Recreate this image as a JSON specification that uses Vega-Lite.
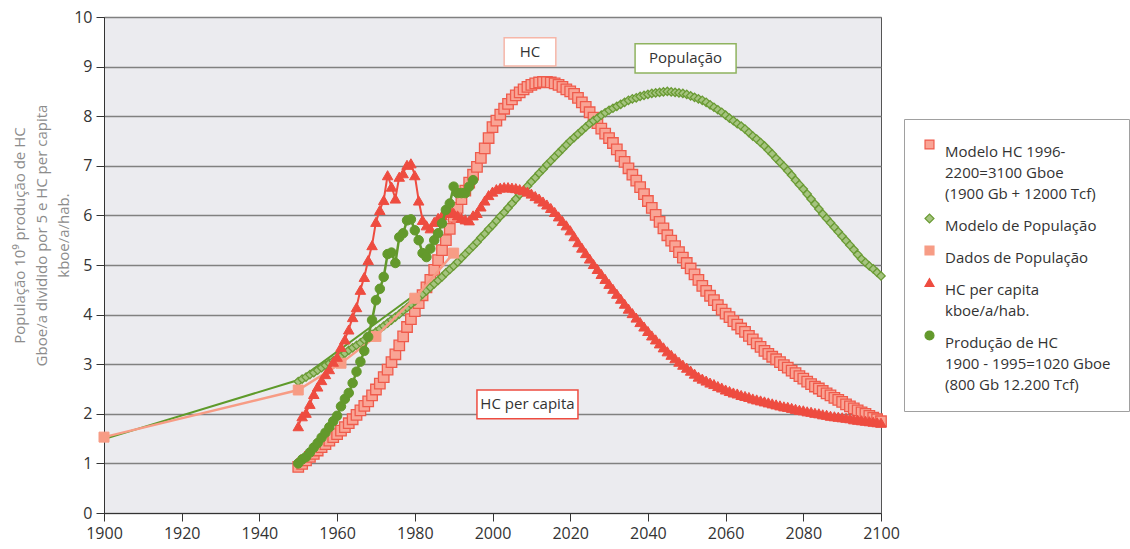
{
  "$schema": "https://vega.github.io/schema/vega-lite/v6.json",
  "width": 777,
  "height": 496,
  "autosize": {"type": "none"},
  "padding": {"left": 104, "top": 17, "right": 249, "bottom": 36},
  "background": "white",
  "config": {
    "font": "Open Sans",
    "view": {"fill": "#EBEBEF", "stroke": "#555555", "strokeWidth": 1},
    "style": {"guide-label": {"lineHeight": 21}}
  },
  "datasets": {
    "popline": [
      {"a": 1900, "v": 1.49}, {"a": 1950, "v": 2.68}, {"a": 1980, "v": 4.4}
    ],
    "popd": [
      {"a": 1900, "v": 1.53, "s": "popd"}, {"a": 1950, "v": 2.48, "s": "popd"}, {"a": 1961, "v": 3.02, "s": "popd"},
      {"a": 1970, "v": 3.56, "s": "popd"}, {"a": 1980, "v": 4.33, "s": "popd"}, {"a": 1990, "v": 5.24, "s": "popd"}
    ],
    "prod": [
      {"a":1950,"v":1.0,"s":"prod"},{"a":1951,"v":1.08,"s":"prod"},{"a":1952,"v":1.13,"s":"prod"},{"a":1953,"v":1.22,"s":"prod"},
      {"a":1954,"v":1.32,"s":"prod"},{"a":1955,"v":1.41,"s":"prod"},{"a":1956,"v":1.52,"s":"prod"},{"a":1957,"v":1.62,"s":"prod"},
      {"a":1958,"v":1.73,"s":"prod"},{"a":1959,"v":1.85,"s":"prod"},{"a":1960,"v":1.96,"s":"prod"},{"a":1961,"v":2.15,"s":"prod"},
      {"a":1962,"v":2.3,"s":"prod"},{"a":1963,"v":2.42,"s":"prod"},{"a":1964,"v":2.62,"s":"prod"},{"a":1965,"v":2.85,"s":"prod"},
      {"a":1966,"v":3.05,"s":"prod"},{"a":1967,"v":3.27,"s":"prod"},{"a":1968,"v":3.55,"s":"prod"},{"a":1969,"v":3.89,"s":"prod"},
      {"a":1970,"v":4.29,"s":"prod"},{"a":1971,"v":4.52,"s":"prod"},{"a":1972,"v":4.76,"s":"prod"},{"a":1973,"v":5.22,"s":"prod"},
      {"a":1974,"v":5.25,"s":"prod"},{"a":1975,"v":5.04,"s":"prod"},{"a":1976,"v":5.56,"s":"prod"},{"a":1977,"v":5.64,"s":"prod"},
      {"a":1978,"v":5.9,"s":"prod"},{"a":1979,"v":5.92,"s":"prod"},{"a":1980,"v":5.7,"s":"prod"},{"a":1981,"v":5.5,"s":"prod"},
      {"a":1982,"v":5.24,"s":"prod"},{"a":1983,"v":5.16,"s":"prod"},{"a":1984,"v":5.33,"s":"prod"},{"a":1985,"v":5.5,"s":"prod"},
      {"a":1986,"v":5.64,"s":"prod"},{"a":1987,"v":5.84,"s":"prod"},{"a":1988,"v":6.11,"s":"prod"},{"a":1989,"v":6.24,"s":"prod"},
      {"a":1990,"v":6.58,"s":"prod"},{"a":1991,"v":6.45,"s":"prod"},{"a":1992,"v":6.45,"s":"prod"},{"a":1993,"v":6.45,"s":"prod"},
      {"a":1994,"v":6.58,"s":"prod"},{"a":1995,"v":6.71,"s":"prod"}
    ],
    "hcpc": [
      {"a":1950,"v":1.75,"s":"hcpc"},{"a":1951,"v":1.95,"s":"hcpc"},{"a":1952,"v":2.02,"s":"hcpc"},{"a":1953,"v":2.2,"s":"hcpc"},
      {"a":1954,"v":2.4,"s":"hcpc"},{"a":1955,"v":2.55,"s":"hcpc"},{"a":1956,"v":2.68,"s":"hcpc"},{"a":1957,"v":2.8,"s":"hcpc"},
      {"a":1958,"v":2.9,"s":"hcpc"},{"a":1959,"v":3.05,"s":"hcpc"},{"a":1960,"v":3.15,"s":"hcpc"},{"a":1961,"v":3.35,"s":"hcpc"},
      {"a":1962,"v":3.5,"s":"hcpc"},{"a":1963,"v":3.7,"s":"hcpc"},{"a":1964,"v":3.95,"s":"hcpc"},{"a":1965,"v":4.15,"s":"hcpc"},
      {"a":1966,"v":4.5,"s":"hcpc"},{"a":1967,"v":4.76,"s":"hcpc"},{"a":1968,"v":5.1,"s":"hcpc"},{"a":1969,"v":5.4,"s":"hcpc"},
      {"a":1970,"v":5.87,"s":"hcpc"},{"a":1971,"v":6.11,"s":"hcpc"},{"a":1972,"v":6.31,"s":"hcpc"},{"a":1973,"v":6.81,"s":"hcpc"},
      {"a":1974,"v":6.58,"s":"hcpc"},{"a":1975,"v":6.34,"s":"hcpc"},{"a":1976,"v":6.78,"s":"hcpc"},{"a":1977,"v":6.85,"s":"hcpc"},
      {"a":1978,"v":7.02,"s":"hcpc"},{"a":1979,"v":7.05,"s":"hcpc"},{"a":1980,"v":6.81,"s":"hcpc"},{"a":1981,"v":6.3,"s":"hcpc"},
      {"a":1982,"v":5.91,"s":"hcpc"},{"a":1983,"v":5.8,"s":"hcpc"},{"a":1984,"v":5.74,"s":"hcpc"},{"a":1985,"v":5.87,"s":"hcpc"},
      {"a":1986,"v":5.95,"s":"hcpc"},{"a":1987,"v":6.0,"s":"hcpc"},{"a":1988,"v":6.05,"s":"hcpc"},{"a":1989,"v":6.1,"s":"hcpc"},
      {"a":1990,"v":6.05,"s":"hcpc"},{"a":1991,"v":6.0,"s":"hcpc"},{"a":1992,"v":5.95,"s":"hcpc"},{"a":1993,"v":5.92,"s":"hcpc"},
      {"a":1994,"v":5.9,"s":"hcpc"},{"a":1995,"v":6.0,"s":"hcpc"},
      {"a":1996,"v":6.05,"s":"hcpc"},{"a":1997,"v":6.18,"s":"hcpc"},{"a":1998,"v":6.3,"s":"hcpc"},{"a":1999,"v":6.41,"s":"hcpc"},
      {"a":2000,"v":6.48,"s":"hcpc"},{"a":2001,"v":6.53,"s":"hcpc"},{"a":2002,"v":6.56,"s":"hcpc"},{"a":2003,"v":6.57,"s":"hcpc"},
      {"a":2004,"v":6.57,"s":"hcpc"},{"a":2005,"v":6.56,"s":"hcpc"},{"a":2006,"v":6.55,"s":"hcpc"},{"a":2007,"v":6.53,"s":"hcpc"},
      {"a":2008,"v":6.51,"s":"hcpc"},{"a":2009,"v":6.48,"s":"hcpc"},{"a":2010,"v":6.44,"s":"hcpc"},{"a":2011,"v":6.39,"s":"hcpc"},
      {"a":2012,"v":6.34,"s":"hcpc"},{"a":2013,"v":6.28,"s":"hcpc"},{"a":2014,"v":6.22,"s":"hcpc"},{"a":2015,"v":6.15,"s":"hcpc"},
      {"a":2016,"v":6.07,"s":"hcpc"},{"a":2017,"v":5.98,"s":"hcpc"},{"a":2018,"v":5.89,"s":"hcpc"},{"a":2019,"v":5.8,"s":"hcpc"},
      {"a":2020,"v":5.7,"s":"hcpc"},{"a":2021,"v":5.58,"s":"hcpc"},{"a":2022,"v":5.46,"s":"hcpc"},{"a":2023,"v":5.35,"s":"hcpc"},
      {"a":2024,"v":5.24,"s":"hcpc"},{"a":2025,"v":5.13,"s":"hcpc"},{"a":2026,"v":5.02,"s":"hcpc"},{"a":2027,"v":4.92,"s":"hcpc"},
      {"a":2028,"v":4.82,"s":"hcpc"},{"a":2029,"v":4.72,"s":"hcpc"},{"a":2030,"v":4.62,"s":"hcpc"},{"a":2031,"v":4.52,"s":"hcpc"},
      {"a":2032,"v":4.42,"s":"hcpc"},{"a":2033,"v":4.32,"s":"hcpc"},{"a":2034,"v":4.22,"s":"hcpc"},{"a":2035,"v":4.12,"s":"hcpc"},
      {"a":2036,"v":4.03,"s":"hcpc"},{"a":2037,"v":3.94,"s":"hcpc"},{"a":2038,"v":3.85,"s":"hcpc"},{"a":2039,"v":3.76,"s":"hcpc"},
      {"a":2040,"v":3.67,"s":"hcpc"},{"a":2041,"v":3.58,"s":"hcpc"},{"a":2042,"v":3.5,"s":"hcpc"},{"a":2043,"v":3.42,"s":"hcpc"},
      {"a":2044,"v":3.34,"s":"hcpc"},{"a":2045,"v":3.26,"s":"hcpc"},{"a":2046,"v":3.19,"s":"hcpc"},{"a":2047,"v":3.12,"s":"hcpc"},
      {"a":2048,"v":3.05,"s":"hcpc"},{"a":2049,"v":2.99,"s":"hcpc"},{"a":2050,"v":2.93,"s":"hcpc"},{"a":2051,"v":2.87,"s":"hcpc"},
      {"a":2052,"v":2.81,"s":"hcpc"},{"a":2053,"v":2.75,"s":"hcpc"},{"a":2054,"v":2.71,"s":"hcpc"},{"a":2055,"v":2.67,"s":"hcpc"},
      {"a":2056,"v":2.63,"s":"hcpc"},{"a":2057,"v":2.6,"s":"hcpc"},{"a":2058,"v":2.56,"s":"hcpc"},{"a":2059,"v":2.53,"s":"hcpc"},
      {"a":2060,"v":2.49,"s":"hcpc"},{"a":2061,"v":2.46,"s":"hcpc"},{"a":2062,"v":2.43,"s":"hcpc"},{"a":2063,"v":2.41,"s":"hcpc"},
      {"a":2064,"v":2.38,"s":"hcpc"},{"a":2065,"v":2.36,"s":"hcpc"},{"a":2066,"v":2.34,"s":"hcpc"},{"a":2067,"v":2.31,"s":"hcpc"},
      {"a":2068,"v":2.29,"s":"hcpc"},{"a":2069,"v":2.27,"s":"hcpc"},{"a":2070,"v":2.25,"s":"hcpc"},{"a":2071,"v":2.23,"s":"hcpc"},
      {"a":2072,"v":2.21,"s":"hcpc"},{"a":2073,"v":2.19,"s":"hcpc"},{"a":2074,"v":2.17,"s":"hcpc"},{"a":2075,"v":2.15,"s":"hcpc"},
      {"a":2076,"v":2.14,"s":"hcpc"},{"a":2077,"v":2.12,"s":"hcpc"},{"a":2078,"v":2.1,"s":"hcpc"},{"a":2079,"v":2.08,"s":"hcpc"},
      {"a":2080,"v":2.07,"s":"hcpc"},{"a":2081,"v":2.05,"s":"hcpc"},{"a":2082,"v":2.04,"s":"hcpc"},{"a":2083,"v":2.02,"s":"hcpc"},
      {"a":2084,"v":2.01,"s":"hcpc"},{"a":2085,"v":1.99,"s":"hcpc"},{"a":2086,"v":1.98,"s":"hcpc"},{"a":2087,"v":1.96,"s":"hcpc"},
      {"a":2088,"v":1.95,"s":"hcpc"},{"a":2089,"v":1.94,"s":"hcpc"},{"a":2090,"v":1.93,"s":"hcpc"},{"a":2091,"v":1.92,"s":"hcpc"},
      {"a":2092,"v":1.91,"s":"hcpc"},{"a":2093,"v":1.89,"s":"hcpc"},{"a":2094,"v":1.88,"s":"hcpc"},{"a":2095,"v":1.87,"s":"hcpc"},
      {"a":2096,"v":1.86,"s":"hcpc"},{"a":2097,"v":1.85,"s":"hcpc"},{"a":2098,"v":1.84,"s":"hcpc"},{"a":2099,"v":1.83,"s":"hcpc"},
      {"a":2100,"v":1.82,"s":"hcpc"}
    ],
    "hcm": [
      {"a":1950,"v":0.93,"s":"hcm"},{"a":1951,"v":0.99,"s":"hcm"},{"a":1952,"v":1.06,"s":"hcm"},{"a":1953,"v":1.13,"s":"hcm"},
      {"a":1954,"v":1.19,"s":"hcm"},{"a":1955,"v":1.26,"s":"hcm"},{"a":1956,"v":1.33,"s":"hcm"},{"a":1957,"v":1.39,"s":"hcm"},
      {"a":1958,"v":1.46,"s":"hcm"},{"a":1959,"v":1.53,"s":"hcm"},{"a":1960,"v":1.59,"s":"hcm"},{"a":1961,"v":1.66,"s":"hcm"},
      {"a":1962,"v":1.73,"s":"hcm"},{"a":1963,"v":1.81,"s":"hcm"},{"a":1964,"v":1.89,"s":"hcm"},{"a":1965,"v":1.98,"s":"hcm"},
      {"a":1966,"v":2.07,"s":"hcm"},{"a":1967,"v":2.16,"s":"hcm"},{"a":1968,"v":2.25,"s":"hcm"},{"a":1969,"v":2.37,"s":"hcm"},
      {"a":1970,"v":2.49,"s":"hcm"},{"a":1971,"v":2.61,"s":"hcm"},{"a":1972,"v":2.74,"s":"hcm"},{"a":1973,"v":2.89,"s":"hcm"},
      {"a":1974,"v":3.04,"s":"hcm"},{"a":1975,"v":3.2,"s":"hcm"},{"a":1976,"v":3.38,"s":"hcm"},{"a":1977,"v":3.56,"s":"hcm"},
      {"a":1978,"v":3.75,"s":"hcm"},{"a":1979,"v":3.91,"s":"hcm"},{"a":1980,"v":4.07,"s":"hcm"},{"a":1981,"v":4.23,"s":"hcm"},
      {"a":1982,"v":4.39,"s":"hcm"},{"a":1983,"v":4.55,"s":"hcm"},{"a":1984,"v":4.7,"s":"hcm"},{"a":1985,"v":4.9,"s":"hcm"},
      {"a":1986,"v":5.1,"s":"hcm"},{"a":1987,"v":5.3,"s":"hcm"},{"a":1988,"v":5.5,"s":"hcm"},{"a":1989,"v":5.73,"s":"hcm"},
      {"a":1990,"v":5.97,"s":"hcm"},{"a":1991,"v":6.15,"s":"hcm"},{"a":1992,"v":6.33,"s":"hcm"},{"a":1993,"v":6.5,"s":"hcm"},
      {"a":1994,"v":6.66,"s":"hcm"},{"a":1995,"v":6.82,"s":"hcm"},{"a":1996,"v":6.98,"s":"hcm"},{"a":1997,"v":7.16,"s":"hcm"},
      {"a":1998,"v":7.35,"s":"hcm"},{"a":1999,"v":7.56,"s":"hcm"},{"a":2000,"v":7.78,"s":"hcm"},{"a":2001,"v":7.91,"s":"hcm"},
      {"a":2002,"v":8.03,"s":"hcm"},{"a":2003,"v":8.15,"s":"hcm"},{"a":2004,"v":8.25,"s":"hcm"},{"a":2005,"v":8.34,"s":"hcm"},
      {"a":2006,"v":8.42,"s":"hcm"},{"a":2007,"v":8.48,"s":"hcm"},{"a":2008,"v":8.54,"s":"hcm"},{"a":2009,"v":8.59,"s":"hcm"},
      {"a":2010,"v":8.63,"s":"hcm"},{"a":2011,"v":8.66,"s":"hcm"},{"a":2012,"v":8.68,"s":"hcm"},{"a":2013,"v":8.69,"s":"hcm"},
      {"a":2014,"v":8.69,"s":"hcm"},{"a":2015,"v":8.68,"s":"hcm"},{"a":2016,"v":8.66,"s":"hcm"},{"a":2017,"v":8.63,"s":"hcm"},
      {"a":2018,"v":8.59,"s":"hcm"},{"a":2019,"v":8.54,"s":"hcm"},{"a":2020,"v":8.5,"s":"hcm"},{"a":2021,"v":8.45,"s":"hcm"},
      {"a":2022,"v":8.37,"s":"hcm"},{"a":2023,"v":8.28,"s":"hcm"},{"a":2024,"v":8.19,"s":"hcm"},{"a":2025,"v":8.08,"s":"hcm"},
      {"a":2026,"v":7.97,"s":"hcm"},{"a":2027,"v":7.86,"s":"hcm"},{"a":2028,"v":7.75,"s":"hcm"},{"a":2029,"v":7.65,"s":"hcm"},
      {"a":2030,"v":7.56,"s":"hcm"},{"a":2031,"v":7.46,"s":"hcm"},{"a":2032,"v":7.33,"s":"hcm"},{"a":2033,"v":7.2,"s":"hcm"},
      {"a":2034,"v":7.08,"s":"hcm"},{"a":2035,"v":6.95,"s":"hcm"},{"a":2036,"v":6.82,"s":"hcm"},{"a":2037,"v":6.7,"s":"hcm"},
      {"a":2038,"v":6.57,"s":"hcm"},{"a":2039,"v":6.43,"s":"hcm"},{"a":2040,"v":6.29,"s":"hcm"},{"a":2041,"v":6.15,"s":"hcm"},
      {"a":2042,"v":6.01,"s":"hcm"},{"a":2043,"v":5.87,"s":"hcm"},{"a":2044,"v":5.74,"s":"hcm"},{"a":2045,"v":5.6,"s":"hcm"},
      {"a":2046,"v":5.49,"s":"hcm"},{"a":2047,"v":5.38,"s":"hcm"},{"a":2048,"v":5.26,"s":"hcm"},{"a":2049,"v":5.15,"s":"hcm"},
      {"a":2050,"v":5.04,"s":"hcm"},{"a":2051,"v":4.93,"s":"hcm"},{"a":2052,"v":4.81,"s":"hcm"},{"a":2053,"v":4.7,"s":"hcm"},
      {"a":2054,"v":4.58,"s":"hcm"},{"a":2055,"v":4.48,"s":"hcm"},{"a":2056,"v":4.38,"s":"hcm"},{"a":2057,"v":4.29,"s":"hcm"},
      {"a":2058,"v":4.19,"s":"hcm"},{"a":2059,"v":4.1,"s":"hcm"},{"a":2060,"v":4.02,"s":"hcm"},{"a":2061,"v":3.95,"s":"hcm"},
      {"a":2062,"v":3.87,"s":"hcm"},{"a":2063,"v":3.8,"s":"hcm"},{"a":2064,"v":3.72,"s":"hcm"},{"a":2065,"v":3.65,"s":"hcm"},
      {"a":2066,"v":3.57,"s":"hcm"},{"a":2067,"v":3.5,"s":"hcm"},{"a":2068,"v":3.42,"s":"hcm"},{"a":2069,"v":3.35,"s":"hcm"},
      {"a":2070,"v":3.27,"s":"hcm"},{"a":2071,"v":3.21,"s":"hcm"},{"a":2072,"v":3.15,"s":"hcm"},{"a":2073,"v":3.1,"s":"hcm"},
      {"a":2074,"v":3.04,"s":"hcm"},{"a":2075,"v":2.98,"s":"hcm"},{"a":2076,"v":2.93,"s":"hcm"},{"a":2077,"v":2.87,"s":"hcm"},
      {"a":2078,"v":2.82,"s":"hcm"},{"a":2079,"v":2.76,"s":"hcm"},{"a":2080,"v":2.71,"s":"hcm"},{"a":2081,"v":2.65,"s":"hcm"},
      {"a":2082,"v":2.6,"s":"hcm"},{"a":2083,"v":2.55,"s":"hcm"},{"a":2084,"v":2.51,"s":"hcm"},{"a":2085,"v":2.46,"s":"hcm"},
      {"a":2086,"v":2.41,"s":"hcm"},{"a":2087,"v":2.37,"s":"hcm"},{"a":2088,"v":2.32,"s":"hcm"},{"a":2089,"v":2.28,"s":"hcm"},
      {"a":2090,"v":2.24,"s":"hcm"},{"a":2091,"v":2.19,"s":"hcm"},{"a":2092,"v":2.15,"s":"hcm"},{"a":2093,"v":2.11,"s":"hcm"},
      {"a":2094,"v":2.07,"s":"hcm"},{"a":2095,"v":2.03,"s":"hcm"},{"a":2096,"v":2.0,"s":"hcm"},{"a":2097,"v":1.96,"s":"hcm"},
      {"a":2098,"v":1.92,"s":"hcm"},{"a":2099,"v":1.89,"s":"hcm"},{"a":2100,"v":1.85,"s":"hcm"}
    ],
    "popm": [
      {"a":1950,"v":2.65,"s":"popm"},{"a":1951,"v":2.7,"s":"popm"},{"a":1952,"v":2.74,"s":"popm"},{"a":1953,"v":2.79,"s":"popm"},
      {"a":1954,"v":2.83,"s":"popm"},{"a":1955,"v":2.88,"s":"popm"},{"a":1956,"v":2.93,"s":"popm"},{"a":1957,"v":2.98,"s":"popm"},
      {"a":1958,"v":3.02,"s":"popm"},{"a":1959,"v":3.07,"s":"popm"},{"a":1960,"v":3.12,"s":"popm"},{"a":1961,"v":3.17,"s":"popm"},
      {"a":1962,"v":3.22,"s":"popm"},{"a":1963,"v":3.28,"s":"popm"},{"a":1964,"v":3.33,"s":"popm"},{"a":1965,"v":3.38,"s":"popm"},
      {"a":1966,"v":3.43,"s":"popm"},{"a":1967,"v":3.49,"s":"popm"},{"a":1968,"v":3.54,"s":"popm"},{"a":1969,"v":3.6,"s":"popm"},
      {"a":1970,"v":3.65,"s":"popm"},{"a":1971,"v":3.71,"s":"popm"},{"a":1972,"v":3.77,"s":"popm"},{"a":1973,"v":3.83,"s":"popm"},
      {"a":1974,"v":3.89,"s":"popm"},{"a":1975,"v":3.95,"s":"popm"},{"a":1976,"v":4.01,"s":"popm"},{"a":1977,"v":4.08,"s":"popm"},
      {"a":1978,"v":4.14,"s":"popm"},{"a":1979,"v":4.21,"s":"popm"},{"a":1980,"v":4.27,"s":"popm"},{"a":1981,"v":4.34,"s":"popm"},
      {"a":1982,"v":4.41,"s":"popm"},{"a":1983,"v":4.48,"s":"popm"},{"a":1984,"v":4.55,"s":"popm"},{"a":1985,"v":4.62,"s":"popm"},
      {"a":1986,"v":4.69,"s":"popm"},{"a":1987,"v":4.76,"s":"popm"},{"a":1988,"v":4.84,"s":"popm"},{"a":1989,"v":4.91,"s":"popm"},
      {"a":1990,"v":4.98,"s":"popm"},{"a":1991,"v":5.06,"s":"popm"},{"a":1992,"v":5.14,"s":"popm"},{"a":1993,"v":5.22,"s":"popm"},
      {"a":1994,"v":5.3,"s":"popm"},{"a":1995,"v":5.38,"s":"popm"},{"a":1996,"v":5.46,"s":"popm"},{"a":1997,"v":5.55,"s":"popm"},
      {"a":1998,"v":5.63,"s":"popm"},{"a":1999,"v":5.72,"s":"popm"},{"a":2000,"v":5.8,"s":"popm"},{"a":2001,"v":5.89,"s":"popm"},
      {"a":2002,"v":5.98,"s":"popm"},{"a":2003,"v":6.06,"s":"popm"},{"a":2004,"v":6.15,"s":"popm"},{"a":2005,"v":6.24,"s":"popm"},
      {"a":2006,"v":6.33,"s":"popm"},{"a":2007,"v":6.42,"s":"popm"},{"a":2008,"v":6.5,"s":"popm"},{"a":2009,"v":6.59,"s":"popm"},
      {"a":2010,"v":6.68,"s":"popm"},{"a":2011,"v":6.76,"s":"popm"},{"a":2012,"v":6.85,"s":"popm"},{"a":2013,"v":6.93,"s":"popm"},
      {"a":2014,"v":7.02,"s":"popm"},{"a":2015,"v":7.1,"s":"popm"},{"a":2016,"v":7.18,"s":"popm"},{"a":2017,"v":7.26,"s":"popm"},
      {"a":2018,"v":7.34,"s":"popm"},{"a":2019,"v":7.42,"s":"popm"},{"a":2020,"v":7.5,"s":"popm"},{"a":2021,"v":7.57,"s":"popm"},
      {"a":2022,"v":7.64,"s":"popm"},{"a":2023,"v":7.71,"s":"popm"},{"a":2024,"v":7.78,"s":"popm"},{"a":2025,"v":7.85,"s":"popm"},
      {"a":2026,"v":7.91,"s":"popm"},{"a":2027,"v":7.96,"s":"popm"},{"a":2028,"v":8.02,"s":"popm"},{"a":2029,"v":8.07,"s":"popm"},
      {"a":2030,"v":8.12,"s":"popm"},{"a":2031,"v":8.16,"s":"popm"},{"a":2032,"v":8.2,"s":"popm"},{"a":2033,"v":8.24,"s":"popm"},
      {"a":2034,"v":8.28,"s":"popm"},{"a":2035,"v":8.32,"s":"popm"},{"a":2036,"v":8.35,"s":"popm"},{"a":2037,"v":8.37,"s":"popm"},
      {"a":2038,"v":8.4,"s":"popm"},{"a":2039,"v":8.42,"s":"popm"},{"a":2040,"v":8.44,"s":"popm"},{"a":2041,"v":8.46,"s":"popm"},
      {"a":2042,"v":8.47,"s":"popm"},{"a":2043,"v":8.48,"s":"popm"},{"a":2044,"v":8.49,"s":"popm"},{"a":2045,"v":8.5,"s":"popm"},
      {"a":2046,"v":8.49,"s":"popm"},{"a":2047,"v":8.48,"s":"popm"},{"a":2048,"v":8.47,"s":"popm"},{"a":2049,"v":8.46,"s":"popm"},
      {"a":2050,"v":8.44,"s":"popm"},{"a":2051,"v":8.41,"s":"popm"},{"a":2052,"v":8.38,"s":"popm"},{"a":2053,"v":8.35,"s":"popm"},
      {"a":2054,"v":8.32,"s":"popm"},{"a":2055,"v":8.28,"s":"popm"},{"a":2056,"v":8.23,"s":"popm"},{"a":2057,"v":8.18,"s":"popm"},
      {"a":2058,"v":8.13,"s":"popm"},{"a":2059,"v":8.08,"s":"popm"},{"a":2060,"v":8.02,"s":"popm"},{"a":2061,"v":7.96,"s":"popm"},
      {"a":2062,"v":7.91,"s":"popm"},{"a":2063,"v":7.85,"s":"popm"},{"a":2064,"v":7.8,"s":"popm"},{"a":2065,"v":7.74,"s":"popm"},
      {"a":2066,"v":7.67,"s":"popm"},{"a":2067,"v":7.6,"s":"popm"},{"a":2068,"v":7.54,"s":"popm"},{"a":2069,"v":7.47,"s":"popm"},
      {"a":2070,"v":7.4,"s":"popm"},{"a":2071,"v":7.32,"s":"popm"},{"a":2072,"v":7.24,"s":"popm"},{"a":2073,"v":7.15,"s":"popm"},
      {"a":2074,"v":7.07,"s":"popm"},{"a":2075,"v":6.99,"s":"popm"},{"a":2076,"v":6.9,"s":"popm"},{"a":2077,"v":6.81,"s":"popm"},
      {"a":2078,"v":6.71,"s":"popm"},{"a":2079,"v":6.62,"s":"popm"},{"a":2080,"v":6.53,"s":"popm"},{"a":2081,"v":6.43,"s":"popm"},
      {"a":2082,"v":6.33,"s":"popm"},{"a":2083,"v":6.23,"s":"popm"},{"a":2084,"v":6.13,"s":"popm"},{"a":2085,"v":6.03,"s":"popm"},
      {"a":2086,"v":5.94,"s":"popm"},{"a":2087,"v":5.85,"s":"popm"},{"a":2088,"v":5.76,"s":"popm"},{"a":2089,"v":5.67,"s":"popm"},
      {"a":2090,"v":5.58,"s":"popm"},{"a":2091,"v":5.49,"s":"popm"},{"a":2092,"v":5.4,"s":"popm"},{"a":2093,"v":5.31,"s":"popm"},
      {"a":2094,"v":5.21,"s":"popm"},{"a":2095,"v":5.12,"s":"popm"},{"a":2096,"v":5.05,"s":"popm"},{"a":2097,"v":4.98,"s":"popm"},
      {"a":2098,"v":4.92,"s":"popm"},{"a":2099,"v":4.85,"s":"popm"},{"a":2100,"v":4.78,"s":"popm"}
    ],
    "boxes": [
      {"t": "HC", "a": 2003.0, "a2": 2016.3, "v": 9.01, "v2": 9.58, "ta": 2009.65, "tv": 9.295, "c": "hc"},
      {"t": "População", "a": 2036.7, "a2": 2062.7, "v": 8.87, "v2": 9.46, "ta": 2049.7, "tv": 9.165, "c": "pop"},
      {"t": "HC per capita", "a": 1996.0, "a2": 2022.0, "v": 1.9, "v2": 2.48, "ta": 2009.0, "tv": 2.19, "c": "pc"}
    ]
  },
  "encoding": {
    "x": {
      "field": "a", "type": "quantitative",
      "scale": {"domain": [1900, 2100], "nice": false, "zero": false},
      "axis": {
        "values": [1900, 1920, 1940, 1960, 1980, 2000, 2020, 2040, 2060, 2080, 2100],
        "format": "d", "grid": false, "title": null,
        "labelFontSize": 16, "labelColor": "#333333", "labelFont": "Open Sans",
        "tickColor": "#333333", "domainColor": "#333333", "tickSize": 8, "labelPadding": 4,
        "labelFlush": false, "labelOverlap": false
      }
    },
    "y": {
      "field": "v", "type": "quantitative",
      "scale": {"domain": [0, 10], "nice": false},
      "axis": {
        "values": [0, 1, 2, 3, 4, 5, 6, 7, 8, 9, 10],
        "grid": true, "gridColor": "#808080", "gridWidth": 1.3,
        "labelFontSize": 16, "labelColor": "#333333", "labelFont": "Open Sans",
        "tickColor": "#333333", "domainColor": "#333333", "tickSize": 8, "labelPadding": 4,
        "labelFlush": false, "labelOverlap": false,
        "title": ["População 10⁹ produção de HC", "Gboe/a dividido por 5 e HC per capita", "kboe/a/hab."],
        "titleFont": "Open Sans", "titleFontSize": 15, "titleFontWeight": "normal", "titleColor": "#8C8C8C",
        "titleAngle": -90, "titleAlign": "center", "titleBaseline": "top", "titleX": -92, "titleY": 218, "titleLineHeight": 22
      }
    }
  },
  "layer": [
    {"data": {"name": "popline"}, "mark": {"type": "line", "color": "#5E9A2A", "strokeWidth": 2}, "encoding": {}},
    {"data": {"name": "hcm"}, "mark": {"type": "line", "color": "#EF5B4C", "strokeWidth": 1.5}, "encoding": {}},
    {
      "data": {"name": "hcm"},
      "mark": {"type": "point", "filled": true, "opacity": 1, "size": 110, "strokeWidth": 1.3},
      "encoding": {
        "fill": {"field": "s", "type": "nominal",
          "scale": {"domain": ["hcm", "popm", "popd", "hcpc", "prod"], "range": ["#F9A495", "#A5C47F", "#F79C85", "#EE4C40", "#63992C"]},
          "legend": {
            "orient": "none", "legendX": 800, "legendY": 102, "title": null,
            "fillColor": "white", "strokeColor": "#A0A0A0", "padding": 18,
            "labelFont": "Open Sans", "labelFontSize": 15, "labelColor": "#333333", "labelLimit": 0,
            "rowPadding": 9, "symbolSize": 80, "symbolStrokeWidth": 1.2, "labelOffset": 8,
            "labelBaseline": "top",
            "labelExpr": "datum.value == 'hcm' ? ['Modelo HC 1996-', '2200=3100 Gboe', '(1900 Gb + 12000 Tcf)'] : datum.value == 'popm' ? 'Modelo de População' : datum.value == 'popd' ? 'Dados de População' : datum.value == 'hcpc' ? ['HC per capita', 'kboe/a/hab.'] : ['Produção de HC', '1900 - 1995=1020 Gboe', '(800 Gb 12.200 Tcf)']"
          }
        },
        "stroke": {"field": "s", "type": "nominal",
          "scale": {"domain": ["hcm", "popm", "popd", "hcpc", "prod"], "range": ["#EF5B4C", "#6A9B34", "#F79C85", "#EE4C40", "#63992C"]}
        },
        "shape": {"field": "s", "type": "nominal",
          "scale": {"domain": ["hcm", "popm", "popd", "hcpc", "prod"], "range": ["square", "diamond", "square", "triangle-up", "circle"]}
        }
      }
    },
    {"data": {"name": "popm"}, "mark": {"type": "line", "color": "#6A9B34", "strokeWidth": 1}, "encoding": {}},
    {
      "data": {"name": "popm"},
      "mark": {"type": "point", "filled": true, "opacity": 1, "size": 70, "strokeWidth": 1.3},
      "encoding": {
        "fill": {"field": "s", "type": "nominal"},
        "stroke": {"field": "s", "type": "nominal"},
        "shape": {"field": "s", "type": "nominal"}
      }
    },
    {"data": {"name": "popd"}, "mark": {"type": "line", "color": "#F79C85", "strokeWidth": 2.5}, "encoding": {}},
    {
      "data": {"name": "popd"},
      "mark": {"type": "point", "filled": true, "opacity": 1, "size": 100, "strokeWidth": 1},
      "encoding": {
        "fill": {"field": "s", "type": "nominal"},
        "stroke": {"field": "s", "type": "nominal"},
        "shape": {"field": "s", "type": "nominal"}
      }
    },
    {"data": {"name": "hcpc"}, "mark": {"type": "line", "color": "#EE4C40", "strokeWidth": 2}, "encoding": {}},
    {
      "data": {"name": "hcpc"},
      "mark": {"type": "point", "filled": true, "opacity": 1, "size": 110, "strokeWidth": 1},
      "encoding": {
        "fill": {"field": "s", "type": "nominal"},
        "stroke": {"field": "s", "type": "nominal"},
        "shape": {"field": "s", "type": "nominal"}
      }
    },
    {"data": {"name": "prod"}, "mark": {"type": "line", "color": "#63992C", "strokeWidth": 2.5}, "encoding": {}},
    {
      "data": {"name": "prod"},
      "mark": {"type": "point", "filled": true, "opacity": 1, "size": 90, "strokeWidth": 1},
      "encoding": {
        "fill": {"field": "s", "type": "nominal"},
        "stroke": {"field": "s", "type": "nominal"},
        "shape": {"field": "s", "type": "nominal"}
      }
    },
    {
      "data": {"name": "boxes"},
      "transform": [{"filter": "datum.c == 'hc'"}],
      "mark": {"type": "rect", "fill": "white", "stroke": "#F6B6A8", "strokeWidth": 1.5},
      "encoding": {"x": {"field": "a", "type": "quantitative"}, "x2": {"field": "a2"}, "y": {"field": "v", "type": "quantitative"}, "y2": {"field": "v2"}}
    },
    {
      "data": {"name": "boxes"},
      "transform": [{"filter": "datum.c == 'pop'"}],
      "mark": {"type": "rect", "fill": "white", "stroke": "#8FB35F", "strokeWidth": 1.5},
      "encoding": {"x": {"field": "a", "type": "quantitative"}, "x2": {"field": "a2"}, "y": {"field": "v", "type": "quantitative"}, "y2": {"field": "v2"}}
    },
    {
      "data": {"name": "boxes"},
      "transform": [{"filter": "datum.c == 'pc'"}],
      "mark": {"type": "rect", "fill": "white", "stroke": "#EE4C40", "strokeWidth": 1.5},
      "encoding": {"x": {"field": "a", "type": "quantitative"}, "x2": {"field": "a2"}, "y": {"field": "v", "type": "quantitative"}, "y2": {"field": "v2"}}
    },
    {
      "data": {"name": "boxes"},
      "mark": {"type": "text", "font": "Open Sans", "fontSize": 15, "color": "#333333", "align": "center", "baseline": "middle"},
      "encoding": {
        "x": {"field": "ta", "type": "quantitative"},
        "y": {"field": "tv", "type": "quantitative"},
        "text": {"field": "t"}
      }
    }
  ]
}
